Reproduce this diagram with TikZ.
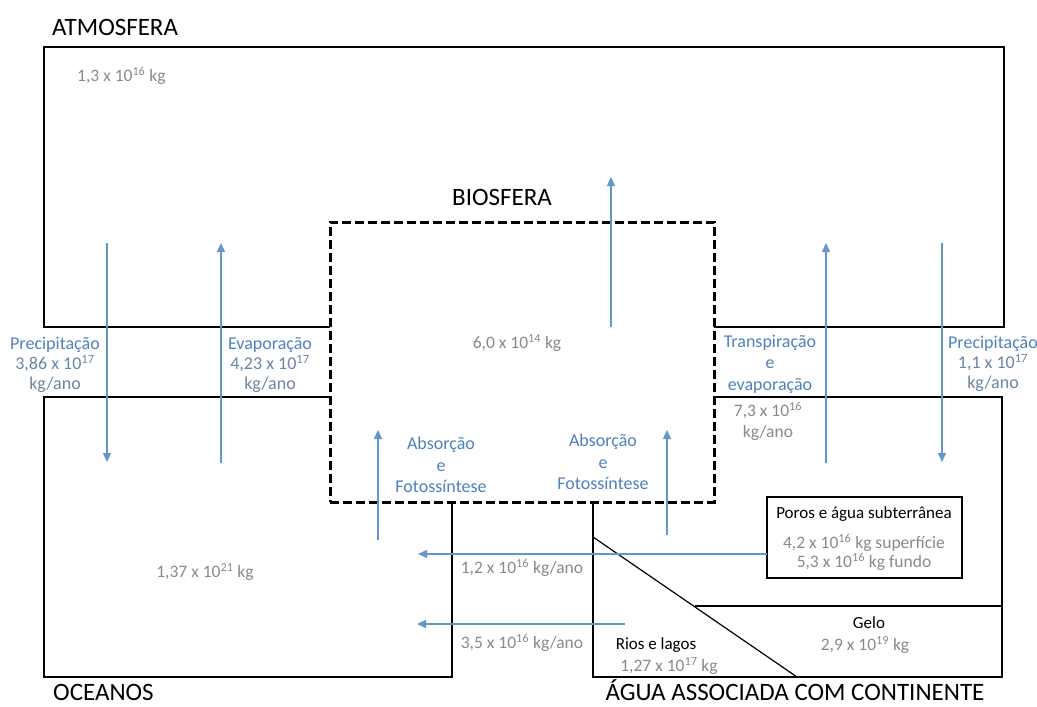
\documentclass[tikz,border=0pt]{standalone}
\usepackage{fontspec}
\setmainfont{Carlito}
\usetikzlibrary{arrows.meta}
\definecolor{txtblue}{RGB}{79,129,189}
\definecolor{arrblue}{RGB}{100,150,200}
\definecolor{valgray}{RGB}{137,137,137}
\colorlet{numblue}{txtblue!55!valgray}
\begin{document}
\begin{tikzpicture}[x=1pt,y=-1pt,
  boxst/.style={draw=black, line width=1.2pt, inner sep=0pt, outer sep=0pt},
  biost/.style={draw=black, line width=3pt, dash pattern=on 9pt off 4pt, fill=white, inner sep=0pt, outer sep=0pt},
  flow/.style={draw=arrblue, line width=1.3pt, -{Triangle[length=9pt,width=8pt]}},
  plain/.style={draw=black, line width=1.2pt},
  bl/.style={text=txtblue, font=\fontsize{18}{21.5}\selectfont, align=center, inner sep=0pt},
  gv/.style={text=valgray, font=\fontsize{17.5}{21}\selectfont, align=center, inner sep=0pt},
  sm/.style={text=black, font=\fontsize{17}{20}\selectfont, align=center, inner sep=0pt},
  big/.style={text=black, font=\fontsize{25}{30}\selectfont, inner sep=0pt}]
\useasboundingbox (0,0) rectangle (1037,707);
% compartments
\node[boxst, minimum width=960pt, minimum height=280pt] (atm) at (524,187) {};
\node[boxst, minimum width=408pt, minimum height=280pt] (oce) at (248,537) {};
\node[boxst, minimum width=409pt, minimum height=280pt] (cont) at (797.5,537) {};
\node[biost, minimum width=384pt, minimum height=280pt] (bio) at (522,362) {};
\node[boxst, minimum width=195pt, minimum height=81pt] (poros) at (864.5,537.5) {};
% lines inside continent
\coordinate (dg1) at (593,537);
\coordinate (dg2) at (797,677);
\coordinate (hz1) at (695,606);
\coordinate (hz2) at (1002,606);
\draw[plain] (dg1) -- (dg2);
\draw[plain] (hz1) -- (hz2);
% arrow ends
\coordinate (p1a) at (107,243); \coordinate (p1b) at (107,462);
\coordinate (e1a) at (221,463); \coordinate (e1b) at (221,243);
\coordinate (b1a) at (611,327); \coordinate (b1b) at (611,177);
\coordinate (ab1a) at (378,540); \coordinate (ab1b) at (378,430);
\coordinate (ab2a) at (667,535); \coordinate (ab2b) at (667,430);
\coordinate (t1a) at (826,463); \coordinate (t1b) at (826,243);
\coordinate (p2a) at (942,243); \coordinate (p2b) at (942,462);
\coordinate (r1b) at (418,554);
\coordinate (r2a) at (625,624); \coordinate (r2b) at (417,624);
\draw[flow] (p1a) -- (p1b);
\draw[flow] (e1a) -- (e1b);
\draw[flow] (b1a) -- (b1b);
\draw[flow] (ab1a) -- (ab1b);
\draw[flow] (ab2a) -- (ab2b);
\draw[flow] (t1a) -- (t1b);
\draw[flow] (p2a) -- (p2b);
\draw[flow] (poros.west |- r1b) -- (r1b);
\draw[flow] (r2a) -- (r2b);
% titles
\node[big, anchor=west] (tatm) at (52,27) {ATMOSFERA};
\node[big] (tbio) at (502,197) {BIOSFERA};
\node[big, anchor=base west] (toce) at (53,700) {OCEANOS};
\node[big, anchor=base] (tcont) at (795,700) {ÁGUA ASSOCIADA COM CONTINENTE};
% masses
\node[gv, anchor=west] (matm) at (77,76) {1,3 x 10\textsuperscript{16} kg};
\node[gv] (mbio) at (517,343) {6,0 x 10\textsuperscript{14} kg};
\node[gv] (moce) at (205,572) {1,37 x 10\textsuperscript{21} kg};
% flow labels
\node[bl] (lprec1) at (55,365) {Precipitação\\[-1.5pt]\textcolor{numblue}{3,86 x 10\textsuperscript{17}}\\[-1.5pt]\textcolor{numblue}{kg/ano}};
\node[bl] (levap) at (270,365) {Evaporação\\[-1.5pt]\textcolor{numblue}{4,23 x 10\textsuperscript{17}}\\[-1.5pt]\textcolor{numblue}{kg/ano}};
\node[bl] (ltransp) at (770,364) {Transpiração\\e\\evaporação};
\node[gv] (vtransp) at (768,421) {7,3 x 10\textsuperscript{16}\\kg/ano};
\node[bl] (lprec2) at (993,364) {Precipitação\\[-1.5pt]\textcolor{numblue}{1,1 x 10\textsuperscript{17}}\\[-1.5pt]\textcolor{numblue}{kg/ano}};
\node[bl] (labs1) at (441,465) {Absorção\\e\\Fotossíntese};
\node[bl] (labs2) at (603,462) {Absorção\\e\\Fotossíntese};
\node[gv] (vr1) at (522,568) {1,2 x 10\textsuperscript{16} kg/ano};
\node[gv] (vr2) at (522,643) {3,5 x 10\textsuperscript{16} kg/ano};
% continent parts
\node[sm] (tporos) at (864,514) {Poros e água subterrânea};
\node[gv] (vporos) at (864,552) {4,2 x 10\textsuperscript{16} kg superfície\\[-2pt]5,3 x 10\textsuperscript{16} kg fundo};
\node[sm] (tgelo) at (869,623) {Gelo};
\node[gv] (vgelo) at (865,645) {2,9 x 10\textsuperscript{19} kg};
\node[sm] (trios) at (656,645) {Rios e lagos};
\node[gv] (vrios) at (669,666) {1,27 x 10\textsuperscript{17} kg};
\end{tikzpicture}
\end{document}
